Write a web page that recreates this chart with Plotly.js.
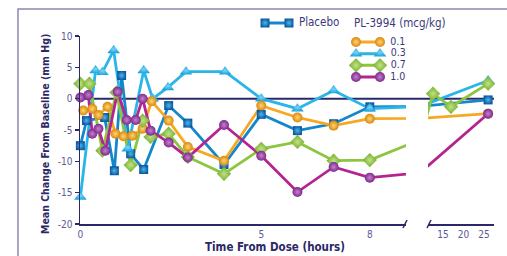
<!DOCTYPE html>
<html>
<head>
<meta charset="utf-8">
<script src="https://cdn.plot.ly/plotly-3.0.1.min.js"></script>
<style>html,body{margin:0;padding:0;background:#fff;}#chart{width:507px;height:256px;}</style>
</head>
<body>
<div id="chart"></div>
<script>
// ---- data (hours, mean change mm Hg) ----
var placeboT = [0, 0.17, 0.67, 0.94, 1.14, 1.39, 1.75, 2.44, 2.97, 3.97, 5.0, 6.0, 7.0, 8.0, 26];
var placeboV = [-7.5, -3.5, -3.0, -11.5, 3.7, -8.8, -11.3, -1.1, -3.9, -10.5, -2.5, -5.1, -4.0, -1.3, -0.2];

var dose03T = [0, 0.42, 0.61, 0.92, 1.31, 1.75, 2.0, 2.42, 2.92, 4.0, 5.0, 6.0, 7.0, 8.0, 26];
var dose03V = [-15.7, 4.5, 4.2, 7.7, -8.0, 4.5, 0, 1.8, 4.3, 4.3, 0, -1.6, 1.3, -1.6, 2.9];

var dose01T = [0.08, 0.33, 0.5, 0.75, 0.97, 1.19, 1.44, 1.72, 1.97, 2.44, 2.97, 3.97, 5.0, 6.0, 7.0, 8.0, 26];
var dose01V = [-1.9, -1.6, -2.6, -1.3, -5.6, -6.0, -5.9, -4.8, -0.4, -3.5, -7.7, -9.9, -1.1, -3.0, -4.3, -3.2, -2.4];

var dose07T = [0, 0.25, 0.61, 1.0, 1.39, 1.72, 1.94, 2.44, 2.97, 3.97, 5.0, 6.0, 7.0, 8.0, 12.56, 16.95, 26];
var dose07V = [2.4, 2.4, -8.3, 1.0, -10.6, -3.5, -6.1, -5.6, -9.3, -12.0, -8.0, -6.9, -9.9, -9.8, 0.8, -1.3, 2.4];

var dose10T = [0, 0.22, 0.33, 0.5, 0.69, 1.03, 1.28, 1.53, 1.72, 1.94, 2.44, 2.97, 3.97, 5.0, 6.0, 7.0, 8.0, 26];
var dose10V = [0.2, 0.6, -5.6, -4.8, -8.3, 1.1, -3.4, -3.4, 0, -5.1, -7.0, -9.4, -4.2, -9.1, -14.9, -10.9, -12.6, -2.4];

var seriesNames = ['Placebo', '0.3', '0.1', '0.7', '1.0'];
var legendDoses = ['0.1', '0.3', '0.7', '1.0'];
var legendTitle = 'PL-3994 (mcg/kg)';
var xTicksLeft = [0, 5, 8];
var xTicksRight = [15, 20, 25];
var yTicks = [-20, -15, -10, -5, 0, 5, 10];
var yTitle = 'Mean Change From Baseline (mm Hg)';
var xTitle = 'Time From Dose (hours)';

// ---- styles ----
var FONT = "'Liberation Sans Narrow', 'DejaVu Sans Condensed', 'Arial Narrow', sans-serif";
var NAVY = '#2b2868';
var TICKC = '#5d5a92';
var styles = {
  'Placebo': {line:'#1487cc', mc:'#0a5aa2', grad:'#4fb6ea', sym:'square', size:9},
  '0.3': {line:'#2ab5e9', mc:'#18a6e0', grad:'#7fd3f5', sym:'triangle-up', size:11},
  '0.1': {line:'#f7a823', mc:'#d9870f', grad:'#ffd66e', sym:'circle', size:10},
  '0.7': {line:'#8cc63f', mc:'#76ad2b', grad:'#bfe384', sym:'diamond', size:11},
  '1.0': {line:'#b5238f', mc:'#7c2b8a', grad:'#c77fcf', sym:'circle', size:10}
};
var dataByName = {
  'Placebo': [placeboT, placeboV],
  '0.3': [dose03T, dose03V],
  '0.1': [dose01T, dose01V],
  '0.7': [dose07T, dose07V],
  '1.0': [dose10T, dose10V]
};

var traces = [];
seriesNames.forEach(function(name){
  var s = styles[name], d = dataByName[name];
  ['x','x2'].forEach(function(xa){
    traces.push({x:d[0], y:d[1], xaxis:xa, yaxis:'y', mode:'lines', showlegend:false, hoverinfo:'skip',
      line:{color:s.line, width:2.8}});
  });
});
seriesNames.forEach(function(name){
  var s = styles[name], d = dataByName[name];
  ['x','x2'].forEach(function(xa){
    traces.push({x:d[0], y:d[1], xaxis:xa, yaxis:'y', mode:'markers', showlegend:false, hoverinfo:'skip', cliponaxis:false,
      marker:{symbol:s.sym, size:s.size, color:s.mc, gradient:{type:'radial', color:s.grad}, line:{width:0}}});
  });
});

// ---- custom legend samples (small hidden subplots) ----
function legendTrace(name, xa, ya, yval, label, fs){
  var s = styles[name];
  return {x:[0,1], y:[yval,yval], xaxis:xa, yaxis:ya, mode:'lines+markers+text', showlegend:false, hoverinfo:'skip',
    cliponaxis:false, text:['', label], textposition:'middle right',
    textfont:{family:FONT, size:fs, color:'#3a3878'},
    line:{color:s.line, width:3},
    marker:{symbol:s.sym, size:s.size, color:s.mc, gradient:{type:'radial', color:s.grad}, line:{width:0}}};
}
traces.push(legendTrace('Placebo', 'x3', 'y3', 0, ' Placebo', 11.5));
legendDoses.forEach(function(dose){ traces.push(legendTrace(dose, 'x4', 'y4', dose, ' ' + dose, 10.5)); });

var hidden = {visible:false, fixedrange:true};
var layout = {
  width:507, height:256,
  margin:{l:80, r:13, t:10, b:32},
  paper_bgcolor:'#ffffff', plot_bgcolor:'rgba(0,0,0,0)',
  font:{family:FONT, color:NAVY},
  showlegend:false,
  xaxis:{domain:[0, 0.7874], range:[-0.01, 9.0], anchor:'y', showgrid:false, zeroline:false,
    showline:true, linecolor:NAVY, linewidth:1.5, ticks:'', tickvals:xTicksLeft, ticktext:xTicksLeft.map(String),
    tickfont:{family:FONT, size:10, color:TICKC}},
  xaxis2:{domain:[0.8406, 1], range:[11.34, 27.44], anchor:'y', showgrid:false, zeroline:false,
    showline:true, linecolor:NAVY, linewidth:1.5, ticks:'', tickvals:xTicksRight, ticktext:xTicksRight.map(String),
    tickfont:{family:FONT, size:10, color:TICKC}},
  yaxis:{domain:[0, 0.8785], range:[-20, 10], anchor:'x', showgrid:false, zeroline:false,
    showline:true, linecolor:NAVY, linewidth:1.5, ticks:'outside', ticklen:4, tickwidth:1.5, tickcolor:NAVY,
    tickvals:yTicks, ticktext:yTicks.map(String), tickfont:{family:FONT, size:10, color:TICKC}},
  xaxis3:Object.assign({domain:[0.4469, 0.5048], range:[0,1], anchor:'y3'}, hidden),
  yaxis3:Object.assign({domain:[0.9112, 0.9673], range:[-1,1], anchor:'x3'}, hidden),
  xaxis4:Object.assign({domain:[0.6667, 0.7246], range:[0,1], anchor:'y4'}, hidden),
  yaxis4:Object.assign({domain:[0.6598, 0.8776], type:'category', categoryorder:'array', categoryarray:legendDoses,
    range:[3.5, -0.5], anchor:'x4'}, hidden),
  shapes:[
    {type:'line', xref:'paper', yref:'y', x0:0, x1:1, y0:0, y1:0, line:{color:NAVY, width:2}, layer:'below'},
    {type:'line', xref:'paper', yref:'paper', x0:0.7802, x1:0.7899, y0:-0.0187, y1:0.0187, line:{color:NAVY, width:1.5}},
    {type:'line', xref:'paper', yref:'paper', x0:0.8382, x1:0.8478, y0:-0.0187, y1:0.0187, line:{color:NAVY, width:1.5}},
    {type:'rect', xref:'paper', yref:'paper', x0:-0.1498, x1:1.08, y0:-0.25, y1:1.0047, line:{color:'#8b88b3', width:1.5}, fillcolor:'rgba(0,0,0,0)'}
  ],
  annotations:[
    {text:'<b>'+yTitle+'</b>', xref:'paper', yref:'paper', x:-0.0845, y:0.4206, xanchor:'center', yanchor:'middle',
      textangle:-90, showarrow:false, font:{family:FONT, size:10.5, color:NAVY}},
    {text:'<b>'+xTitle+'</b>', xref:'paper', yref:'paper', x:0.47, y:-0.1075, xanchor:'center', yanchor:'middle',
      showarrow:false, font:{family:FONT, size:11.5, color:NAVY}},
    {text:legendTitle, xref:'paper', yref:'paper', x:0.657, y:0.939, xanchor:'left', yanchor:'middle',
      showarrow:false, font:{family:FONT, size:11.5, color:'#3a3878'}}
  ]
};

Plotly.newPlot('chart', traces, layout, {staticPlot:true, displayModeBar:false});
</script>
</body>
</html>
